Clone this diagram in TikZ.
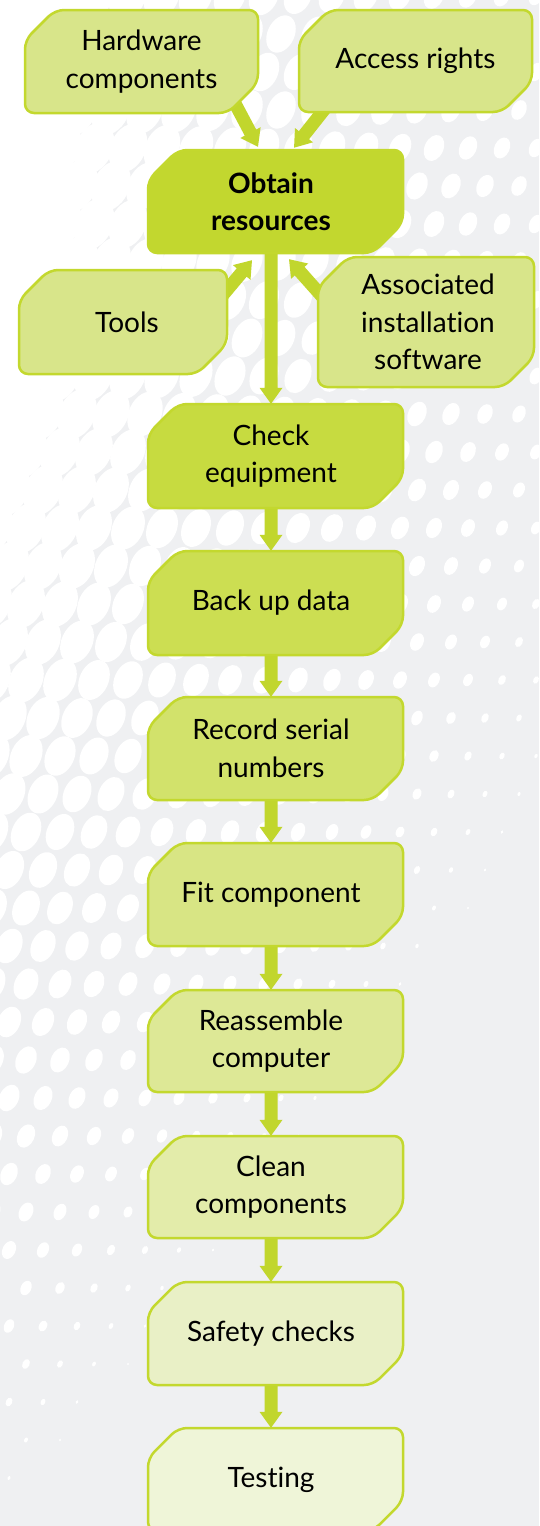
\documentclass[tikz,border=0pt]{standalone}
\usepackage{fontspec}
\setmainfont{Lato}[Ligatures=NoCommon]
\usetikzlibrary{calc}
\definecolor{bggray}{HTML}{EFF0F2}
\definecolor{limeline}{HTML}{C3D82E}
\definecolor{arrowlime}{HTML}{C1D62D}
\definecolor{sidefill}{HTML}{D8E58A}
\definecolor{cObtain}{HTML}{C2D72F}
\definecolor{cCheck}{HTML}{C7DB40}
\definecolor{cBack}{HTML}{CCDE52}
\definecolor{cRecord}{HTML}{D2E26B}
\definecolor{cFit}{HTML}{D8E584}
\definecolor{cReas}{HTML}{DDE896}
\definecolor{cClean}{HTML}{E3ECAA}
\definecolor{cSafety}{HTML}{E9F0C6}
\definecolor{cTest}{HTML}{EFF5D8}
\pgfdeclarelayer{bgdots}
\pgfdeclarelayer{connlayer}
\pgfdeclarelayer{boxlayer}
\pgfsetlayers{bgdots,connlayer,boxlayer,main}
\tikzset{
  boxshape/.style={draw=limeline, line width=2.5pt, rounded corners=9pt},
  boxtext/.style={align=center, inner sep=0pt, text=black,
    font=\fontsize{28}{37.5}\selectfont},
  connfill/.style={fill=arrowlime}
}
\newcommand\chm{30}
% #1 name #2 L #3 T #4 R #5 B #6 text x #7 fill #8 text
\newcommand\flowbox[8]{%
  \begin{pgfonlayer}{boxlayer}
    \filldraw[boxshape, fill=#7] ({#2},{-(#3)-\chm}) -- ({#2+\chm},{-(#3)}) -- ({#4},{-(#3)})
      -- ({#4},{-(#5)+\chm}) -- ({#4-\chm},{-(#5)}) -- ({#2},{-(#5)}) -- cycle;
  \end{pgfonlayer}
  \pgfmathsetmacro\fbw{2*min(#6-#2,#4-#6)}%
  \pgfmathsetmacro\fbh{#5-#3}%
  \node[boxtext, minimum width=\fbw pt, minimum height=\fbh pt] (#1) at ({#6},{-(#3+#5)/2}) {#8};
}
\newcommand\fatarrow[2]{%
  \path let \p1=(#1), \p2=(#2) in \pgfextra{%
    \pgfmathsetmacro\faang{atan2((\y2)-(\y1),(\x2)-(\x1))}%
    \pgfmathsetmacro\falen{veclen((\x2)-(\x1),(\y2)-(\y1))}%
    \xdef\faang{\faang}\xdef\falen{\falen}};
  \begin{pgfonlayer}{connlayer}
    \fill[connfill, shift={(#1)}, rotate=\faang] (0,-6.5) -- ({\falen-16},-6.5) -- ({\falen-16},-11.5)
      -- ({\falen},0) -- ({\falen-16},11.5) -- ({\falen-16},6.5) -- (0,6.5) -- cycle;
  \end{pgfonlayer}
}
\begin{document}
\begin{tikzpicture}[x=1pt,y=1pt]
\useasboundingbox (0,0) rectangle (539,-1526);
\begin{pgfonlayer}{bgdots}
  \fill[bggray] (0,0) rectangle (539,-1526);
  \foreach \j in {0,...,40}{
    \foreach \i in {0,...,16}{
      \pgfmathsetmacro\px{\i*34+mod(\j,2)*17-8}
      \pgfmathsetmacro\py{\j*38-4}
      \pgfmathsetmacro\yy{max(\py-250,0)/100}
      \pgfmathsetmacro\rr{min(22,21-0.0267*\px-0.45*\yy*sqrt(\yy))}
      \ifdim\rr pt>0.8pt
        \fill[white, rotate around={65:(\px,-\py)}] (\px,-\py) ellipse ({1.45*\rr*1pt} and {\rr*1pt});
      \fi
    }
  }
\end{pgfonlayer}

\flowbox{hw}{25}{10}{258}{113}{141.5}{sidefill}{Hardware\\components}
\flowbox{ar}{299}{10}{532}{112}{415.5}{sidefill}{Access rights}
\flowbox{ob}{148}{150}{403}{253}{271}{cObtain}{\textbf{Obtain}\\\textbf{resources}}
\flowbox{tl}{19}{270}{227}{374}{127}{sidefill}{Tools}
\flowbox{as}{318}{257}{534}{387}{428}{sidefill}{Associated\\installation\\software}
\flowbox{ce}{148}{404}{403}{508}{271}{cCheck}{Check\\equipment}
\flowbox{bu}{148}{551}{403}{655}{271}{cBack}{Back up data}
\flowbox{rs}{148}{697}{403}{800}{271}{cRecord}{Record serial\\numbers}
\flowbox{fc}{148}{843}{403}{946}{271}{cFit}{Fit component}
\flowbox{rc}{148}{990}{403}{1092}{271}{cReas}{Reassemble\\computer}
\flowbox{cc}{148}{1136}{403}{1238}{271}{cClean}{Clean\\components}
\flowbox{sc}{148}{1282}{403}{1385}{271}{cSafety}{Safety checks}
\flowbox{te}{148}{1428}{403}{1531}{271}{cTest}{Testing}

\coordinate (hwtail) at ($(hw.south east)+(-26,15)$);
\coordinate (hwtip) at ($(ob.north)+(-13,3)$);
\coordinate (artail) at ($(ar.south west)+(36,16)$);
\coordinate (artip) at ($(ob.north)+(23,2)$);
\coordinate (tltail) at ($(tl.north east)+(-21,-45)$);
\coordinate (tltip) at ($(ob.south)+(-19,-7)$);
\coordinate (astail) at ($(as.north west)+(21,-63)$);
\coordinate (astip) at ($(ob.south)+(18,-6)$);

\fatarrow{hwtail}{hwtip}
\fatarrow{artail}{artip}
\fatarrow{tltail}{tltip}
\fatarrow{astail}{astip}
\fatarrow{ob.south}{ce.north}
\fatarrow{ce.south}{bu.north}
\fatarrow{bu.south}{rs.north}
\fatarrow{rs.south}{fc.north}
\fatarrow{fc.south}{rc.north}
\fatarrow{rc.south}{cc.north}
\fatarrow{cc.south}{sc.north}
\fatarrow{sc.south}{te.north}
\end{tikzpicture}
\end{document}
